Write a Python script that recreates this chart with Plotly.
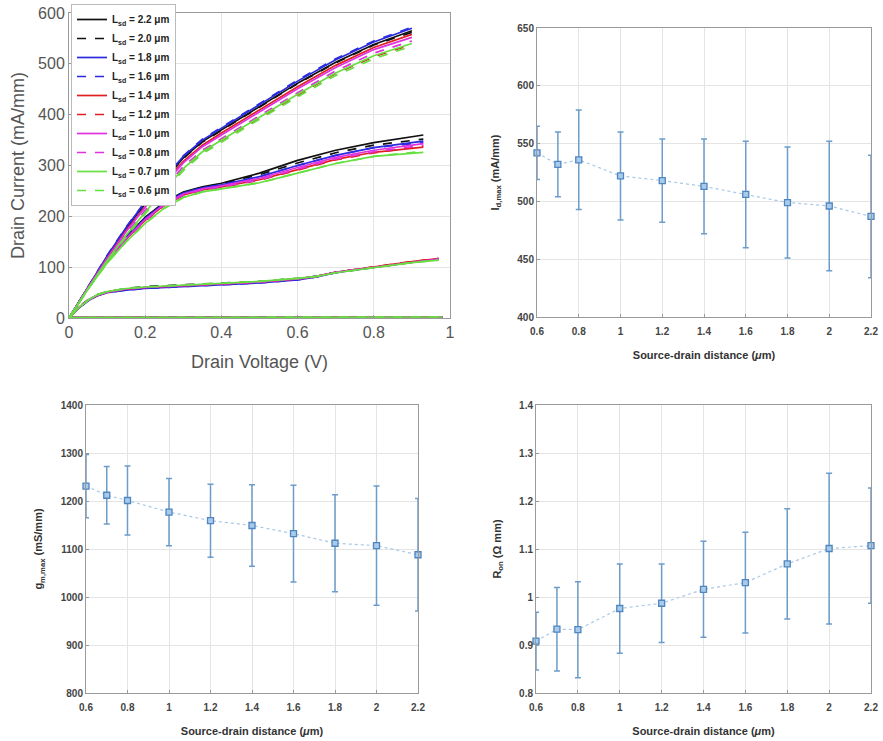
import plotly.graph_objects as go

W, H = 883, 741

# ---------------- Panel (a): output characteristics ----------------
series_names = ["2.2", "2.0", "1.8", "1.6", "1.4", "1.2", "1.0", "0.8", "0.7", "0.6"]
series_colors = ["#111111", "#111111", "#2a2ae0", "#2a2ae0", "#e02020", "#e02020",
                 "#e030e0", "#e030e0", "#66e040", "#66e040"]
series_dash = ["solid", "dash"] * 5

XH = [0, 0.05, 0.1, 0.15, 0.2, 0.25, 0.3, 0.35, 0.4, 0.5, 0.6, 0.7, 0.8, 0.9]
ID_HIGH = [
    [0, 61, 120, 176, 226, 272, 315, 347, 370, 417, 462, 503, 538, 565],
    [0, 61, 120, 175, 225, 271, 314, 346, 369, 416, 461, 502, 537, 562],
    [0, 62, 122, 178, 228, 275, 318, 350, 373, 420, 466, 508, 543, 570],
    [0, 62, 123, 179, 229, 276, 319, 352, 375, 422, 468, 510, 545, 572],
    [0, 60, 118, 172, 220, 266, 308, 340, 364, 410, 455, 497, 532, 558],
    [0, 58, 113, 163, 208, 252, 293, 326, 349, 394, 438, 481, 514, 538],
    [0, 60, 117, 170, 218, 263, 305, 337, 360, 406, 451, 493, 528, 552],
    [0, 59, 115, 166, 212, 256, 298, 330, 353, 398, 443, 486, 521, 545],
    [0, 58, 113, 163, 208, 252, 294, 327, 350, 395, 440, 482, 516, 540],
    [0, 57, 111, 160, 205, 248, 290, 323, 346, 391, 435, 477, 510, 535],
]

XM = [0, 0.05, 0.1, 0.15, 0.2, 0.25, 0.3, 0.35, 0.4, 0.5, 0.6, 0.7, 0.8, 0.93]
ID_MID = [
    [0, 60, 115, 160, 198, 228, 248, 258, 265, 285, 310, 330, 345, 360],
    [0, 60, 115, 160, 198, 227, 247, 257, 264, 282, 305, 325, 340, 352],
    [0, 60, 114, 158, 196, 226, 246, 256, 262, 278, 300, 320, 335, 348],
    [0, 60, 114, 158, 196, 226, 246, 256, 262, 278, 300, 320, 335, 345],
    [0, 58, 111, 155, 192, 222, 242, 252, 258, 272, 292, 312, 326, 336],
    [0, 58, 110, 154, 191, 221, 241, 251, 257, 271, 291, 311, 325, 338],
    [0, 59, 112, 156, 194, 224, 244, 254, 260, 275, 296, 316, 330, 343],
    [0, 58, 111, 155, 192, 222, 242, 252, 258, 272, 293, 313, 327, 340],
    [0, 57, 108, 150, 186, 216, 237, 248, 254, 266, 285, 304, 318, 326],
    [0, 57, 108, 150, 186, 216, 237, 248, 254, 266, 285, 304, 318, 328],
]

XL = [0, 0.025, 0.05, 0.075, 0.1, 0.15, 0.2, 0.3, 0.4, 0.5, 0.6, 0.65, 0.7, 0.8, 0.9, 0.97]
ID_LOW = [
    [0, 20, 35, 45, 51, 57, 60, 64, 67, 71, 77, 82, 90, 100, 110, 116],
    [0, 21, 36, 46, 52, 58, 62, 65, 68, 72, 78, 82, 90, 100, 110, 117],
    [0, 19, 34, 44, 50, 55, 58, 62, 65, 69, 75, 81, 89, 100, 110, 116],
    [0, 19, 34, 44, 50, 55, 58, 62, 65, 69, 75, 81, 89, 100, 110, 116],
    [0, 20, 35, 45, 51, 57, 60, 64, 67, 71, 77, 82, 90, 101, 111, 117],
    [0, 20, 35, 45, 51, 57, 60, 64, 67, 71, 77, 82, 90, 101, 111, 117],
    [0, 20, 35, 45, 51, 57, 60, 64, 67, 71, 77, 82, 90, 100, 110, 116],
    [0, 20, 35, 45, 51, 57, 60, 64, 67, 71, 77, 82, 90, 100, 110, 116],
    [0, 20, 35, 46, 52, 58, 61, 65, 68, 72, 78, 82, 89, 99, 109, 114],
    [0, 20, 35, 46, 52, 58, 61, 65, 68, 72, 78, 82, 89, 99, 109, 114],
]

XZ = [0, 0.98]
ID_OFF = [[1, 2]] * 10

# ---------------- Panels (b)-(d): statistics vs source-drain distance ----------------
LSD = [0.6, 0.7, 0.8, 1.0, 1.2, 1.4, 1.6, 1.8, 2.0, 2.2]
ID_MAX = [542, 532, 536, 522, 518, 513, 506, 499, 496, 487]
ID_MAX_ERR = [23, 28, 43, 38, 36, 41, 46, 48, 56, 53]
GM_MAX = [1231, 1212, 1201, 1177, 1159, 1149, 1132, 1112, 1107, 1088]
GM_MAX_ERR = [66, 60, 72, 70, 76, 85, 101, 101, 124, 117]
RON = [0.908, 0.933, 0.932, 0.976, 0.987, 1.016, 1.030, 1.069, 1.101, 1.107]
RON_ERR = [0.06, 0.087, 0.10, 0.093, 0.082, 0.10, 0.105, 0.115, 0.157, 0.12]
X_TICKS = [0.6, 0.8, 1.0, 1.2, 1.4, 1.6, 1.8, 2.0, 2.2]
X_TICK_TEXT = ["0.6", "0.8", "1", "1.2", "1.4", "1.6", "1.8", "2", "2.2"]

FONT = "Arial, Liberation Sans, sans-serif"
fig = go.Figure()

for i in range(10):
    xs, ys = [], []
    for xg, yg in ((XH, ID_HIGH[i]), (XM, ID_MID[i]), (XL, ID_LOW[i]), (XZ, ID_OFF[i])):
        xs += list(xg) + [None]
        ys += list(yg) + [None]
    fig.add_trace(go.Scatter(
        x=xs, y=ys, mode="lines", xaxis="x", yaxis="y",
        name="L<sub>sd</sub> = %s μm" % series_names[i],
        line=dict(color=series_colors[i], width=1.7, dash=series_dash[i]),
        connectgaps=False, showlegend=True))

MC = "#4f86bf"
EC = "#6c9ccb"
for ax, vals, errs in (("2", ID_MAX, ID_MAX_ERR), ("3", GM_MAX, GM_MAX_ERR), ("4", RON, RON_ERR)):
    fig.add_trace(go.Scatter(
        x=LSD, y=vals, xaxis="x" + ax, yaxis="y" + ax, mode="lines+markers",
        line=dict(color="#a8c8e6", width=1.2, dash="dot"),
        marker=dict(symbol="square", size=6, color="#a9cbeb", line=dict(width=1.3, color=MC)),
        error_y=dict(type="data", array=errs, visible=True, color=EC, thickness=1.5, width=3),
        showlegend=False, cliponaxis=False))

def px(x):
    return x / W

def py(y):
    return 1 - y / H

grid = "#e4e4e4"
axcol = "#9a9a9a"
small_tick = dict(family=FONT, size=10, color="#444444", weight="bold")
small_title = dict(family=FONT, size=11, color="#333333", weight="bold")

common = dict(showgrid=True, gridcolor=grid, gridwidth=1, zeroline=False,
              showline=True, linecolor=axcol, linewidth=1, mirror=True,
              ticks="inside", ticklen=3, tickcolor=axcol, automargin=False)

layout = dict(
    width=W, height=H, margin=dict(l=0, r=0, t=0, b=0),
    paper_bgcolor="white", plot_bgcolor="white",
    font=dict(family=FONT),
    xaxis=dict(domain=[px(69), px(450)], range=[0, 1], anchor="y",
               tickvals=[0, 0.2, 0.4, 0.6, 0.8, 1], ticktext=["0", "0.2", "0.4", "0.6", "0.8", "1"],
               tickfont=dict(family=FONT, size=16, color="#555555"),
               title=dict(text="Drain Voltage (V)", font=dict(family=FONT, size=18, color="#555555")),
               **common),
    yaxis=dict(domain=[py(318), py(13)], range=[0, 600], anchor="x",
               tickvals=[0, 100, 200, 300, 400, 500, 600],
               tickfont=dict(family=FONT, size=16, color="#555555"),
               title=dict(text="Drain Current (mA/mm)", font=dict(family=FONT, size=18, color="#555555"), standoff=8),
               **common),
    xaxis2=dict(domain=[px(537), px(871)], range=[0.6, 2.2], anchor="y2",
                tickvals=X_TICKS, ticktext=X_TICK_TEXT, tickfont=small_tick, ticklabelstandoff=5,
                title=dict(text="Source-drain distance (<i>μ</i>m)", font=small_title), **common),
    yaxis2=dict(domain=[py(317), py(28)], range=[400, 650], anchor="x2",
                tickvals=[400, 450, 500, 550, 600, 650], tickfont=small_tick,
                title=dict(text="I<sub>d,max</sub> (mA/mm)", font=small_title), **common),
    xaxis3=dict(domain=[px(86), px(418)], range=[0.6, 2.2], anchor="y3",
                tickvals=X_TICKS, ticktext=X_TICK_TEXT, tickfont=small_tick, ticklabelstandoff=5,
                title=dict(text="Source-drain distance (<i>μ</i>m)", font=small_title), **common),
    yaxis3=dict(domain=[py(693), py(405)], range=[800, 1400], anchor="x3",
                tickvals=[800, 900, 1000, 1100, 1200, 1300, 1400], tickfont=small_tick,
                title=dict(text="g<sub>m,max</sub> (mS/mm)", font=small_title), **common),
    xaxis4=dict(domain=[px(536), px(871)], range=[0.6, 2.2], anchor="y4",
                tickvals=X_TICKS, ticktext=X_TICK_TEXT, tickfont=small_tick, ticklabelstandoff=5,
                title=dict(text="Source-drain distance (<i>μ</i>m)", font=small_title), **common),
    yaxis4=dict(domain=[py(693), py(405)], range=[0.8, 1.4], anchor="x4",
                tickvals=[0.8, 0.9, 1.0, 1.1, 1.2, 1.3, 1.4], ticktext=["0.8", "0.9", "1", "1.1", "1.2", "1.3", "1.4"],
                tickfont=small_tick,
                title=dict(text="R<sub>on</sub> (Ω mm)", font=small_title), **common),
    legend=dict(x=px(71), y=py(4), xanchor="left", yanchor="top",
                bgcolor="white", bordercolor="#bbbbbb", borderwidth=1,
                font=dict(family=FONT, size=10, color="#222222", weight="bold"),
                tracegroupgap=0, itemwidth=30),
)
fig.update_layout(**layout)
fig.write_html("out.html", config={"displayModeBar": False},
               post_script="document.body.style.margin='0px';document.body.style.overflow='hidden';")
